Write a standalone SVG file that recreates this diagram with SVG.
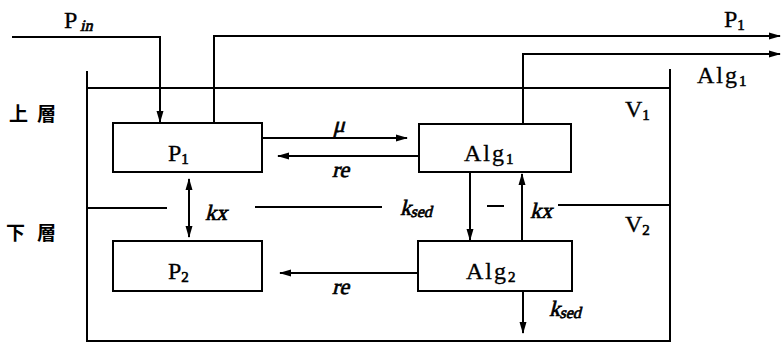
<svg xmlns="http://www.w3.org/2000/svg" width="781" height="343" viewBox="0 0 781 343">
  <style>
    .ln { fill: none; stroke: #000; stroke-width: 2; }
    .box { fill: #fff; stroke: #000; stroke-width: 2; }
    .t { font-family: "Liberation Serif", "Times New Roman", serif; fill: #000; font-size: 24px; stroke: #000; stroke-width: 0.3; }
    .sub { font-size: 15px; stroke-width: 0.6; }
    /* slanted serif labels: upright face sheared by the transform */
    .it { font-family: "Liberation Serif", "Times New Roman", serif; fill: #000; font-size: 22px; stroke: #000; stroke-width: 0.7; }
    .its { font-size: 16px; }
    .cjk { font-family: "Noto Sans CJK JP", "Noto Sans CJK TC", sans-serif; font-size: 19px; font-weight: bold; fill: #000; }
  </style>
  <defs>
    <marker id="arr" markerUnits="userSpaceOnUse" markerWidth="12" markerHeight="8" refX="11" refY="4" orient="auto-start-reverse">
      <path d="M0,0.5 L12,4 L0,7.5 z" fill="#000"/>
    </marker>
  </defs>

  <rect width="781" height="343" fill="#fff"/>

  <!-- tank walls and layer divider -->
  <g id="tank">
    <path class="ln" d="M87,71 V341 H670 V69"/>
    <path class="ln" d="M87,88 H670"/>
    <path class="ln" d="M87,208 H167"/>
    <path class="ln" d="M255,207 H382"/>
    <path class="ln" d="M487,206 H504"/>
    <path class="ln" d="M558,205 H670"/>
  </g>

  <!-- layer labels -->
  <g id="layer-labels">
    <text class="cjk" x="9" y="121">上</text>
    <text class="cjk" x="37" y="121">層</text>
    <text class="cjk" x="6" y="240">下</text>
    <text class="cjk" x="37" y="240">層</text>
  </g>

  <!-- flows -->
  <g id="connectors">
    <path class="ln" d="M12,37 H160 V122" marker-end="url(#arr)"/>
    <path class="ln" d="M214,123 V36 H780" marker-end="url(#arr)"/>
    <path class="ln" d="M523,124 V54 H780" marker-end="url(#arr)"/>
    <path class="ln" d="M262,138 H407" marker-end="url(#arr)"/>
    <path class="ln" d="M418,156 H278" marker-end="url(#arr)"/>
    <path class="ln" d="M189,179 V237" marker-start="url(#arr)" marker-end="url(#arr)"/>
    <path class="ln" d="M470,172 V240" marker-end="url(#arr)"/>
    <path class="ln" d="M522,241 V174" marker-end="url(#arr)"/>
    <path class="ln" d="M418,273 H280" marker-end="url(#arr)"/>
    <path class="ln" d="M523,291 V333" marker-end="url(#arr)"/>
  </g>

  <g id="node-P1">
    <rect class="box" x="113" y="123" width="149" height="49"/>
    <text class="t" x="168" y="161">P<tspan class="sub" dy="3">1</tspan></text>
  </g>
  <g id="node-Alg1">
    <rect class="box" x="419" y="124" width="152" height="48"/>
    <text class="t" x="464" y="161" letter-spacing="2">Alg<tspan class="sub" dy="3" letter-spacing="0">1</tspan></text>
  </g>
  <g id="node-P2">
    <rect class="box" x="113" y="241" width="149" height="50"/>
    <text class="t" x="168" y="279">P<tspan class="sub" dy="3">2</tspan></text>
  </g>
  <g id="node-Alg2">
    <rect class="box" x="418" y="241" width="154" height="50"/>
    <text class="t" x="466" y="279" letter-spacing="2">Alg<tspan class="sub" dy="3" letter-spacing="0">2</tspan></text>
  </g>

  <!-- flow and volume labels -->
  <g id="labels">
    <text class="t" x="64" y="28" font-size="22">P</text>
    <text class="it its" transform="translate(80,31) skewX(-14)">in</text>
    <text class="t" x="724" y="27" font-size="22">P<tspan class="sub" dy="3">1</tspan></text>
    <text class="t" x="697" y="83" font-size="22" letter-spacing="2">Alg<tspan class="sub" dy="3" letter-spacing="0">1</tspan></text>
    <text class="t" x="625" y="117">V<tspan class="sub" dy="3">1</tspan></text>
    <text class="t" x="625" y="232">V<tspan class="sub" dy="3">2</tspan></text>
    <text class="it" transform="translate(333,132) skewX(-14)">μ</text>
    <text class="it" transform="translate(332,177) skewX(-14)">re</text>
    <text class="it" transform="translate(332,294) skewX(-14)">re</text>
    <text class="it" transform="translate(205,220) skewX(-14)">kx</text>
    <text class="it" transform="translate(530,218) skewX(-14)">kx</text>
    <text class="it" transform="translate(400,215) skewX(-14)">k<tspan class="its" dy="2">sed</tspan></text>
    <text class="it" transform="translate(549,316) skewX(-14)">k<tspan class="its" dy="2">sed</tspan></text>
  </g>
</svg>
